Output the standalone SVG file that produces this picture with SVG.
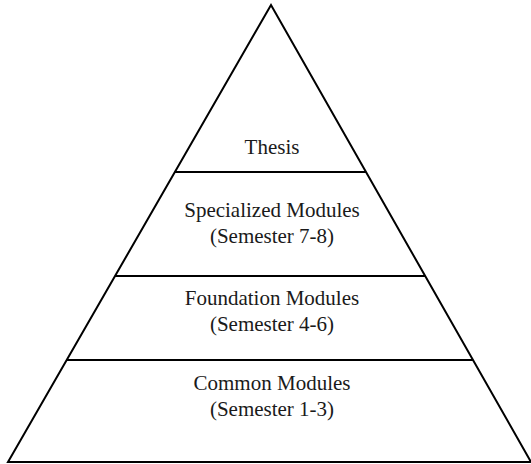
<svg xmlns="http://www.w3.org/2000/svg" width="531" height="464" viewBox="0 0 531 464">
<style>
.e{stroke:#000;stroke-width:2;fill:none}
.t{font-family:"Liberation Serif","Times New Roman",serif;font-size:21px;fill:#1a1a1a;text-anchor:middle}
</style>
<rect width="531" height="464" fill="#fff"/>
<g id="pyramid">
<polygon class="e" points="271,5 8,462 531,462"/>
</g>
<g id="connectors">
<line class="e" x1="174.9" y1="172" x2="366" y2="172"/>
<line class="e" x1="115" y1="276" x2="425.2" y2="276"/>
<line class="e" x1="66.7" y1="360" x2="473" y2="360"/>
</g>
<g id="thesis"><text class="t" x="272" y="154">Thesis</text></g>
<g id="specialized"><text class="t" x="272" y="217">Specialized Modules</text><text class="t" x="272" y="243">(Semester 7-8)</text></g>
<g id="foundation"><text class="t" x="272" y="305">Foundation Modules</text><text class="t" x="272" y="331">(Semester 4-6)</text></g>
<g id="common"><text class="t" x="272" y="390">Common Modules</text><text class="t" x="272" y="416">(Semester 1-3)</text></g>
</svg>
